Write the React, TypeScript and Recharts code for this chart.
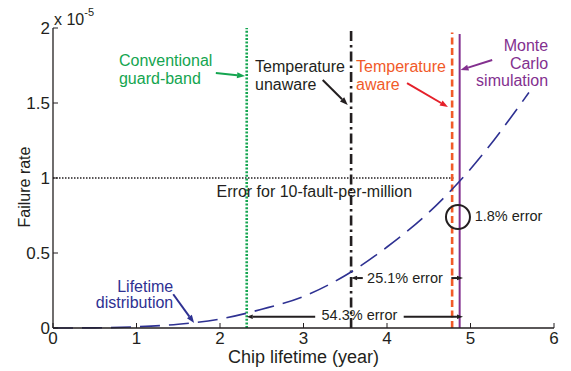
import { ComposedChart, Line, XAxis, YAxis, ReferenceLine, ReferenceDot } from 'recharts'

// lifetime distribution curve (failure rate in units of 1e-5)
const years = [0, 0.5, 1, 1.5, 2, 2.5, 3, 3.5, 4, 4.5, 5, 5.7]
const failureRate = [0, 0.001, 0.008, 0.025, 0.06, 0.125, 0.21, 0.35, 0.54, 0.77, 1.06, 1.57]

const xTicks = [0, 1, 2, 3, 4, 5, 6]
const yTicks = [0, 0.5, 1, 1.5, 2]

// estimated lifetimes (year)
const guardBand = 2.32
const tempUnaware = 3.57
const tempAware = 4.78
const monteCarlo = 4.87
const threshold = 1

const data = years.map((t, i) => ({ t, rate: failureRate[i] }))

const FONT = '"Liberation Sans", Arial, Helvetica, sans-serif'
const INK = '#231f20'
const GREEN = '#14a550'
const ORANGE = '#f15a29'
const RED = '#e5202a'
const PURPLE = '#83308f'
const BLUE = '#2e3192'

function arrow(color: string, width: number, head = 8) {
	return (props: any) => {
		const { x1, y1, x2, y2 } = props
		const a = Math.atan2(y2 - y1, x2 - x1)
		const w = head * 0.38
		const bx = x2 - head * Math.cos(a)
		const by = y2 - head * Math.sin(a)
		const pts = `${x2},${y2} ${bx - w * Math.sin(a)},${by + w * Math.cos(a)} ${bx + w * Math.sin(a)},${by - w * Math.cos(a)}`
		return (
			<g>
				<line x1={x1} y1={y1} x2={bx} y2={by} stroke={color} strokeWidth={width} />
				<polygon points={pts} fill={color} />
			</g>
		)
	}
}

function note(lines: string[], color: string, anchor: 'start' | 'middle' | 'end', lh = 18, size = 16) {
	return (props: any) => (
		<text x={props.cx} y={props.cy} fill={color} fontSize={size} fontFamily={FONT} textAnchor={anchor}>
			{lines.map((l, i) => (
				<tspan key={i} x={props.cx} dy={i === 0 ? 0 : lh}>{l}</tspan>
			))}
		</text>
	)
}

const BottomTick = (p: any) => (
	<g>
		<line x1={p.x} y1={p.y} x2={p.x} y2={p.y - 5} stroke={INK} strokeWidth={1} />
		<text x={p.x} y={p.y + 16} textAnchor="middle" fontSize={17} fontFamily={FONT} fill={INK}>{p.payload.value}</text>
	</g>
)
const LeftTick = (p: any) => (
	<g>
		<line x1={p.x} y1={p.y} x2={p.x + 5} y2={p.y} stroke={INK} strokeWidth={1} />
		<text x={p.x - 3} y={p.y + 6} textAnchor="end" fontSize={17} fontFamily={FONT} fill={INK}>{String(p.payload.value)}</text>
	</g>
)
const TopTick = (p: any) => <line x1={p.x} y1={p.y} x2={p.x} y2={p.y + 5} stroke={INK} strokeWidth={1} />
const RightTick = (p: any) => <line x1={p.x} y1={p.y} x2={p.x - 5} y2={p.y} stroke={INK} strokeWidth={1} />

export default function App() {
	return (
		<div style={{ position: 'absolute', left: 0, top: 0, fontFamily: FONT }}>
			<ComposedChart width={571} height={371} data={data} margin={{ top: 28, right: 17, bottom: 13, left: 8 }}>
				<XAxis
					dataKey="t" type="number" domain={[0, 6]} ticks={xTicks} height={30}
					tickSize={0} tickMargin={0} tickLine={false} tick={BottomTick}
					axisLine={{ stroke: INK, strokeWidth: 1.3 }}
					label={{
						content: (p: any) => (
							<text x={p.viewBox.x + p.viewBox.width / 2} y={p.viewBox.y + 35} textAnchor="middle" fontSize={18} fontFamily={FONT} fill={INK}>
								Chip lifetime (year)
							</text>
						),
					}}
				/>
				<XAxis xAxisId="top" orientation="top" type="number" domain={[0, 6]} ticks={xTicks} height={0}
					tickSize={0} tickMargin={0} tickLine={false} tick={TopTick} axisLine={{ stroke: INK, strokeWidth: 1.3 }} />
				<YAxis
					type="number" domain={[0, 2]} ticks={yTicks} width={45}
					tickSize={0} tickMargin={0} tickLine={false} tick={LeftTick}
					axisLine={{ stroke: INK, strokeWidth: 1.3 }}
					label={{
						content: (p: any) => {
							const cx = p.viewBox.x + 22
							const cy = p.viewBox.y + p.viewBox.height / 2 + 9
							return (
								<text x={cx} y={cy} transform={`rotate(-90 ${cx} ${cy})`} textAnchor="middle" fontSize={16} fontFamily={FONT} fill={INK}>
									Failure rate
								</text>
							)
						},
					}}
				/>
				<YAxis yAxisId="right" orientation="right" type="number" domain={[0, 2]} ticks={yTicks} width={0}
					tickSize={0} tickMargin={0} tickLine={false} tick={RightTick} axisLine={{ stroke: INK, strokeWidth: 1.3 }} />

				{/* threshold: 10 faults per million */}
				<ReferenceLine segment={[{ x: 0, y: threshold }, { x: 4.8, y: threshold }]} stroke={INK} strokeWidth={1.6} strokeDasharray="1.5 1.5" />

				<ReferenceLine x={guardBand} stroke={GREEN} strokeWidth={2.6} strokeDasharray="2 1.6" />
				<ReferenceLine x={tempUnaware} stroke={INK} strokeWidth={2.6} strokeDasharray="10 4 2.5 4" />
				<ReferenceLine segment={[{ x: tempAware, y: 0 }, { x: tempAware, y: 1.97 }]} stroke={ORANGE} strokeWidth={2.6} strokeDasharray="7 3.5" />
				<ReferenceLine segment={[{ x: monteCarlo, y: 0 }, { x: monteCarlo, y: 1.96 }]} stroke={PURPLE} strokeWidth={2} />

				<Line dataKey="rate" type="monotone" stroke={BLUE} strokeWidth={1.6} strokeDasharray="20 9" dot={false} isAnimationActive={false} />

				{/* labels and arrows */}
				<ReferenceDot x={0.79} y={1.746} r={0} shape={note(['Conventional', 'guard-band'], GREEN, 'start', 18)} />
				<ReferenceLine segment={[{ x: 1.95, y: 1.7 }, { x: 2.3, y: 1.68 }]} shape={arrow(GREEN, 2)} />

				<ReferenceDot x={2.42} y={1.706} r={0} shape={note(['Temperature', 'unaware'], INK, 'start', 18)} />
				<ReferenceLine segment={[{ x: 3.23, y: 1.653 }, { x: 3.53, y: 1.487 }]} shape={arrow(INK, 2)} />

				<ReferenceDot x={3.63} y={1.706} r={0} shape={note(['Temperature', 'aware'], ORANGE, 'start', 18)} />
				<ReferenceLine segment={[{ x: 4.24, y: 1.633 }, { x: 4.73, y: 1.473 }]} shape={arrow(RED, 2)} />

				<ReferenceDot x={5.93} y={1.846} r={0} shape={note(['Monte', 'Carlo', 'simulation'], PURPLE, 'end', 17.5)} />
				<ReferenceLine segment={[{ x: 5.26, y: 1.787 }, { x: 4.88, y: 1.72 }]} shape={arrow(PURPLE, 2)} />

				<ReferenceDot x={1.44} y={0.241} r={0} shape={note(['Lifetime', 'distribution'], BLUE, 'end', 16.5)} />
				<ReferenceLine segment={[{ x: 1.44, y: 0.225 }, { x: 1.69, y: 0.033 }]} shape={arrow(BLUE, 2)} />

				<ReferenceDot x={3.13} y={0.876} r={0} shape={note(['Error for 10-fault-per-million'], INK, 'middle')} />

				<ReferenceDot x={4.85} y={0.74} r={12} fill="none" stroke={INK} strokeWidth={2} />
				<ReferenceDot x={5.05} y={0.716} r={0} shape={note(['1.8% error'], INK, 'start', 18, 14.5)} />

				<ReferenceLine segment={[{ x: 3.71, y: 0.333 }, { x: tempUnaware, y: 0.333 }]} shape={arrow(INK, 2, 6)} />
				<ReferenceLine segment={[{ x: 4.77, y: 0.333 }, { x: 4.91, y: 0.333 }]} shape={arrow(INK, 2, 6)} />
				<ReferenceDot x={4.215} y={0.301} r={0} shape={note(['25.1% error'], INK, 'middle', 18, 14.5)} />

				<ReferenceLine segment={[{ x: 3.14, y: 0.075 }, { x: guardBand, y: 0.075 }]} shape={arrow(INK, 2, 6)} />
				<ReferenceLine segment={[{ x: 4.2, y: 0.075 }, { x: 4.91, y: 0.075 }]} shape={arrow(INK, 2, 6)} />
				<ReferenceDot x={3.67} y={0.0535} r={0} shape={note(['54.3% error'], INK, 'middle', 18, 14.5)} />

				{/* axis multiplier */}
				<ReferenceDot
					x={0} y={2} r={0} ifOverflow="visible"
					shape={(p: any) => (
						<text x={p.cx + 1} y={p.cy - 3} fontSize={16} fontFamily={FONT} fill={INK}>
							x 10<tspan dy={-9} fontSize={11}>-5</tspan>
						</text>
					)}
				/>
			</ComposedChart>
		</div>
	)
}
